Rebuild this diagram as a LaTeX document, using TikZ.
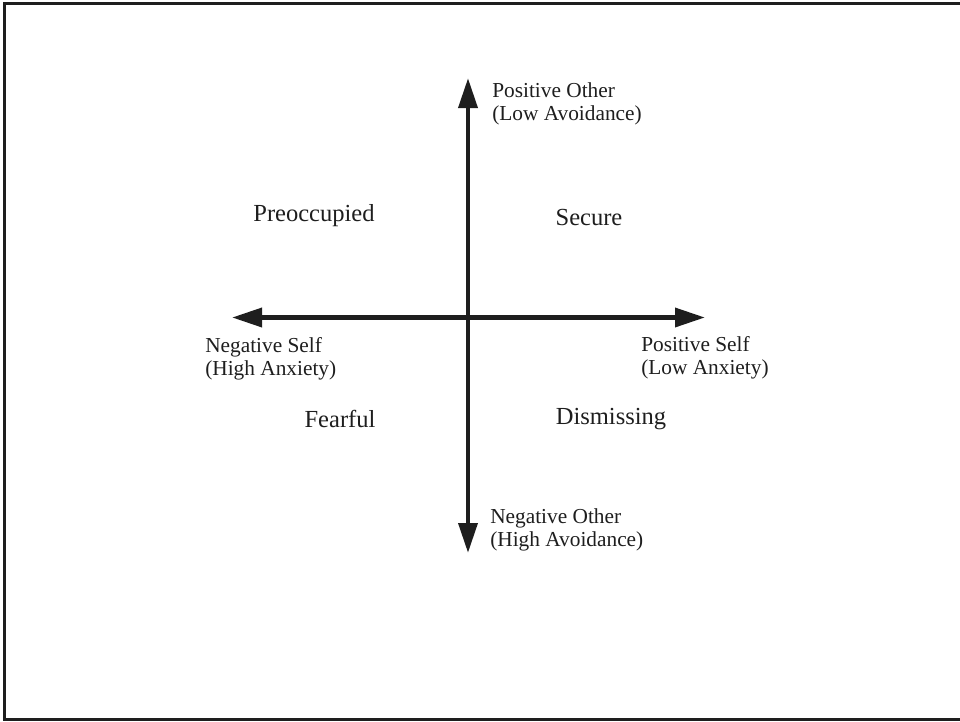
\documentclass[tikz,border=0pt]{standalone}
\usepackage{fontspec}
\setmainfont{Liberation Serif}
\usetikzlibrary{arrows.meta}
\definecolor{ink}{HTML}{1E1E1E}
\begin{document}
\begin{tikzpicture}[x=0.75pt,y=-0.75pt,
  axis/.style={draw=ink,line width=3.4pt,{Triangle[length=22.5pt,width=14pt]}-{Triangle[length=22.5pt,width=14pt]}},
  axlabel/.style={anchor=west,align=left,inner sep=0pt,text=ink,font=\fontsize{16pt}{17.2pt}\selectfont},
  quad/.style={anchor=center,inner sep=0pt,text=ink,font=\fontsize{18.4pt}{20pt}\selectfont}]
\useasboundingbox (0,0) rectangle (960,721);
% frame (left, top, bottom)
\draw[ink,line width=2.2pt] (960,3.2) -- (4.2,3.2) -- (4.2,719.5) -- (960,719.5);
% axis end points
\coordinate (top) at (468,78);
\coordinate (bottom) at (468,553);
\coordinate (left) at (232,317.5);
\coordinate (right) at (705,317.5);
\draw[axis] (bottom) -- (top);
\draw[axis] (left) -- (right);
% axis labels
\node[axlabel] (po) at (492,104) {Positive Other\\(Low Avoidance)};
\node[axlabel] (ns) at (205,359) {Negative Self\\(High Anxiety)};
\node[axlabel] (ps) at (641,358) {Positive Self\\(Low Anxiety)};
\node[axlabel] (no) at (490,530) {Negative Other\\(High Avoidance)};
% quadrant labels
\node[quad] (pre) at (314,216) {Preoccupied};
\node[quad] (sec) at (589,217) {Secure};
\node[quad] (fea) at (340,419) {Fearful};
\node[quad] (dis) at (611,419) {Dismissing};
\end{tikzpicture}
\end{document}
